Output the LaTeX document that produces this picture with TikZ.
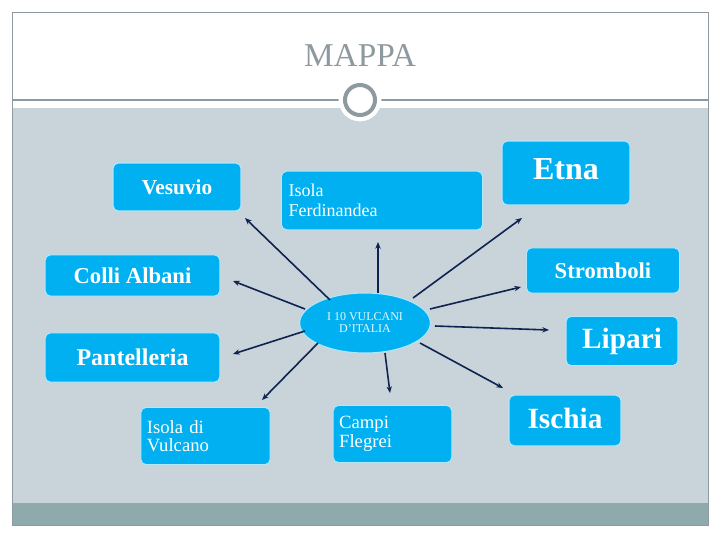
\documentclass[tikz,border=0pt]{standalone}
\usepackage{fontspec}
\setmainfont{Liberation Serif}
\usetikzlibrary{arrows.meta,shapes.geometric}
\definecolor{bx}{HTML}{00B0F0}
\definecolor{bg}{HTML}{C8D3DA}
\definecolor{bar}{HTML}{8EAAAD}
\definecolor{ln}{HTML}{8F9AA0}
\definecolor{ar}{HTML}{0F2350}
\tikzset{
 box/.style={fill=bx,draw=white!70!bx,line width=0.8pt,rounded corners=4pt,text=white,inner sep=0pt,font=\bfseries},
 arr/.style={draw=ar,line width=1.2pt,-{Stealth[length=5pt,width=4pt]}}
}
\begin{document}
\begin{tikzpicture}[x=0.75pt,y=-0.75pt]
\useasboundingbox (0,0) rectangle (720,540);
\fill[white] (0,0) rectangle (720,540);
\fill[bg] (12,108) rectangle (708,525);
\fill[bar] (12,503) rectangle (708,525);
\draw[ln,line width=0.6pt] (12,12) rectangle (708,525);
\draw[ln,line width=0.8pt] (12,100) -- (708,100);
\node[font=\fontsize{25}{25}\selectfont,text=ln] (title) at (360,55) {MAPPA};
\draw[fill=white,draw=white,line width=0.5pt] (360,100) circle (21);
\draw[ln,line width=3pt] (360,100) circle (15);
% boxes
\node[box,minimum width=96pt,minimum height=36pt,font=\bfseries\fontsize{16}{16}\selectfont] (ves) at (177,187) {Vesuvio};
\node[box,minimum width=151pt,minimum height=44pt,align=left,font=\fontsize{13.5}{15}\selectfont,text width=140pt] (fer) at (382,200.5) {Isola\\Ferdinandea};
\node[box,minimum width=96pt,minimum height=48pt,font=\bfseries\fontsize{24}{24}\selectfont] (etn) at (566,173) {\raisebox{6pt}{Etna}};
\node[box,minimum width=131pt,minimum height=31pt,font=\bfseries\fontsize{17}{17}\selectfont] (col) at (132.5,275.5) {Colli Albani};
\node[box,minimum width=115pt,minimum height=34pt,font=\bfseries\fontsize{17}{17}\selectfont] (str) at (603,270.5) {Stromboli};
\node[box,minimum width=131pt,minimum height=37pt,font=\bfseries\fontsize{18}{18}\selectfont] (pan) at (132.5,357.5) {Pantelleria};
\node[box,minimum width=84pt,minimum height=37pt,font=\bfseries\fontsize{22}{22}\selectfont] (lip) at (622,341) {Lipari};
\node[box,minimum width=97pt,minimum height=43pt,align=left,text width=88pt,font=\fontsize{14}{14}\selectfont] (vul) at (205.5,436) {Isola di\\Vulcano};
\node[box,minimum width=89pt,minimum height=43pt,align=left,text width=80pt,font=\fontsize{14}{14}\selectfont] (cam) at (392.5,434) {Campi\\Flegrei};
\node[box,minimum width=84pt,minimum height=38pt,font=\bfseries\fontsize{22}{22}\selectfont] (isc) at (565,420.5) {\raisebox{4pt}{Ischia}};
\node[ellipse,fill=bx,draw=white!70!bx,line width=0.8pt,minimum width=98pt,minimum height=45pt,inner sep=0pt,align=center,text=white!90!bx,font=\fontsize{9}{9}\selectfont] (c) at (365,323) {I 10 VULCANI\\D'ITALIA};
% arrows
\coordinate (a1s) at (330,300); \coordinate (a1) at (245,218);
\coordinate (a2s) at (378,293); \coordinate (a2) at (378,242);
\coordinate (a3s) at (413,298); \coordinate (a3) at (522,218);
\coordinate (a4s) at (430,309); \coordinate (a4) at (521,287);
\coordinate (a5s) at (305,309); \coordinate (a5) at (233,281);
\coordinate (a6s) at (435,326); \coordinate (a6) at (549,330);
\coordinate (a7s) at (305,331); \coordinate (a7) at (233,354);
\coordinate (a8s) at (318,343); \coordinate (a8) at (262,400);
\coordinate (a9s) at (385,353); \coordinate (a9) at (390,393);
\coordinate (a10s) at (420,343); \coordinate (a10) at (503,388);
\foreach \i in {1,...,10} \draw[arr] (a\i s) -- (a\i);
\end{tikzpicture}
\end{document}
